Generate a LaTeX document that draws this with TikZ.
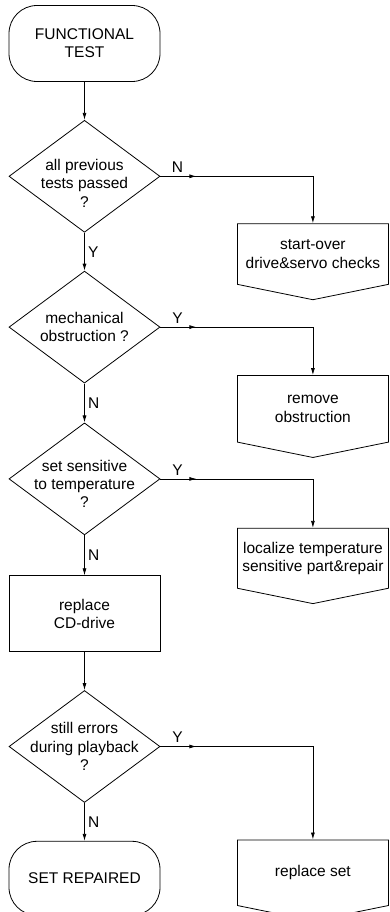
\documentclass[tikz,border=0pt]{standalone}
\usepackage{fontspec}
\setmainfont{Liberation Sans}
\usetikzlibrary{shapes,arrows,arrows.meta,positioning,calc,decorations.markings}
\tikzstyle{terminal} = [rectangle, draw, rounded corners=28pt, minimum width=151pt, minimum height=76pt, align=center]
\tikzstyle{decision} = [diamond, draw, minimum width=151pt, minimum height=112pt, inner sep=0pt]
\tikzstyle{process} = [rectangle, draw, minimum width=151pt, minimum height=76pt, align=center]
\tikzstyle{pagebox} = [signal, draw, signal to=south, signal from=nowhere, signal pointer angle=157, minimum width=151pt, minimum height=75pt, align=center]
\tikzstyle{branch} = [->, postaction={decorate}, decoration={markings, mark=at position 36pt with {\arrow{>}}}]

\begin{document}
\begin{tikzpicture}[node distance=38pt, >={Latex[length=7pt,width=4pt]}, line width=0.8pt,
    font=\fontsize{15.5}{18.3}\selectfont]
    \useasboundingbox (0,0) rectangle (390pt,-912pt);
    % main column
    \node[terminal] (start) at (84.5pt,-43.5pt) {FUNCTIONAL\\TEST};
    \node[decision, below=of start, label={[align=center, yshift=-7pt]center:all previous\\tests passed\\?}] (prev) {};
    \node[decision, below=of prev, label={[align=center]center:mechanical\\obstruction ?}] (mech) {};
    \node[decision, below=39pt of mech, label={[align=center, yshift=-5pt]center:set sensitive\\to temperature\\?}] (temp) {};
    \node[process, below=40pt of temp] (cdrive) {replace\\CD-drive};
    \node[decision, below=of cdrive, label={[align=center]center:still errors\\during playback\\?}] (play) {};
    \node[terminal, below=of play, minimum height=74pt] (done) {SET REPAIRED};

    % side actions
    \node[pagebox, anchor=north] (restart) at ($(prev.east)+(152.5pt,-47pt)$) {start-over\\drive\&servo checks};
    \node[pagebox, anchor=north] (remove) at ($(mech.east)+(152.5pt,-48pt)$) {remove\\obstruction};
    \node[pagebox, anchor=north] (localize) at ($(temp.east)+(152.5pt,-49pt)$) {localize temperature\\sensitive part\&repair};
    \node[pagebox, anchor=north, minimum height=74pt] (replset) at ($(play.east)+(152.5pt,-93pt)$) {replace set};

    % connections
    \draw[->] (start) -- (prev);
    \draw[->] (prev) -- node[right] {Y} (mech);
    \draw[->] (mech) -- node[right] {N} (temp);
    \draw[->] (temp) -- node[right] {N} (cdrive);
    \draw[->] (cdrive) -- (play);
    \draw[->] (play) -- node[right] {N} (done);

    % branches
    \draw[branch] (prev.east) -| node[pos=0.056, above] {N} (restart.north);
    \draw[branch] (mech.east) -| node[pos=0.056, above] {Y} (remove.north);
    \draw[branch] (temp.east) -| node[pos=0.056, above] {Y} (localize.north);
    \draw[branch] (play.east) -| node[pos=0.056, above] {Y} (replset.north);
\end{tikzpicture}
\end{document}
